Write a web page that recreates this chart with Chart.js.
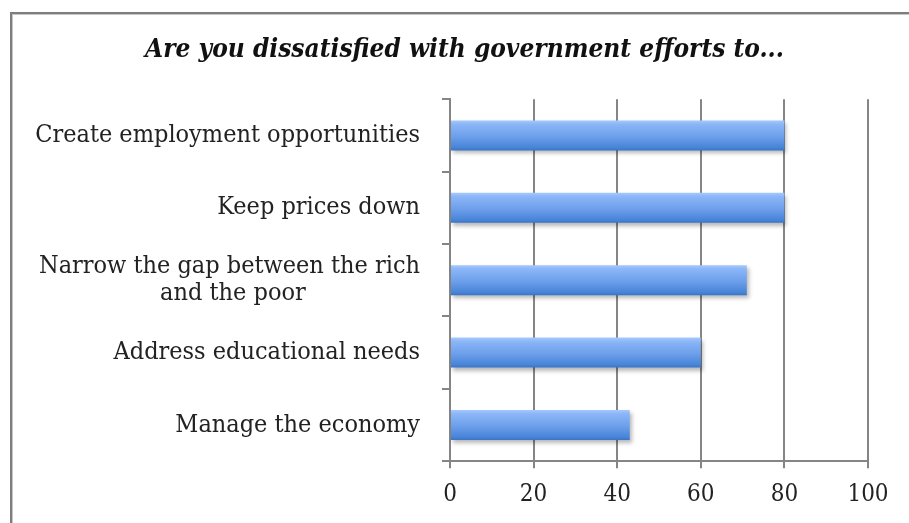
<!DOCTYPE html>
<html>
<head>
<meta charset="utf-8">
<script src="https://cdn.jsdelivr.net/npm/chart.js@4"></script>
<style>
  html, body { margin: 0; padding: 0; background: #fff; overflow: hidden; }
  #wrap { position: relative; width: 909px; height: 523px; }
  #frame {
    position: absolute; left: 10px; top: 12px; width: 1000px; height: 600px;
    border: 2px solid #7e7e7e; box-shadow: inset 1px 1px 0 #c6c6c6;
  }
  canvas { position: absolute; left: 0; top: 0; }
</style>
</head>
<body>
<div id="wrap">
  <div id="frame"></div>
  <canvas id="chart" width="909" height="523"></canvas>
</div>
<script>
// survey answers, top to bottom
const categories = [
  'Create employment opportunities',
  'Keep prices down',
  ['Narrow the gap between the rich', 'and the poor'],
  'Address educational needs',
  'Manage the economy'
];
const percentDissatisfied = [80, 80, 71, 60, 43];
const xTicks = [0, 20, 40, 60, 80, 100];

const serif = '"DejaVu Serif Condensed", "DejaVu Serif", serif';
const labelFont = '25px ' + serif;
const gridGray = '#858585';

// the wrapped label is centred under its first line, so pad the short line
const measureCtx = document.createElement('canvas').getContext('2d');
measureCtx.font = labelFont;
function centerLines(label) {
  if (!Array.isArray(label)) return label;
  const widest = Math.max(...label.map(s => measureCtx.measureText(s).width));
  return label.map(s => {
    let out = s;
    while (measureCtx.measureText(out + '\u00A0').width <= (widest + measureCtx.measureText(s).width) / 2 + 2) {
      out += '\u00A0';
    }
    return out;
  });
}

// vertical gradient on each bar, worked out from the y scale
function barFill(ctx) {
  const chart = ctx.chart;
  const y = chart.scales.y;
  const fallback = '#6f9fe8';
  if (!y || ctx.dataIndex === undefined) return fallback;
  const mid = y.getPixelForValue(ctx.dataIndex);
  const half = (y.height / categories.length) * 0.415 / 2;
  if (!isFinite(mid) || !isFinite(half) || half <= 0) return fallback;
  const g = chart.ctx.createLinearGradient(0, mid - half, 0, mid + half);
  g.addColorStop(0, '#a6c9fc');
  g.addColorStop(0.12, '#8cb7f8');
  g.addColorStop(0.55, '#6c9eea');
  g.addColorStop(0.9, '#4884d8');
  g.addColorStop(1, '#3a74c6');
  return g;
}

const barShadow = {
  id: 'barShadow',
  beforeDatasetsDraw(chart) {
    const c = chart.ctx;
    c.save();
    c.shadowColor = 'rgba(0,0,0,0.28)';
    c.shadowBlur = 4;
    c.shadowOffsetX = 2;
    c.shadowOffsetY = 3;
  },
  afterDatasetsDraw(chart) {
    chart.ctx.restore();
  }
};

new Chart(document.getElementById('chart'), {
  type: 'bar',
  data: {
    labels: categories,
    datasets: [{
      data: percentDissatisfied,
      backgroundColor: barFill,
      borderWidth: 0,
      barPercentage: 0.415,
      categoryPercentage: 1
    }]
  },
  options: {
    indexAxis: 'y',
    responsive: false,
    animation: false,
    layout: { padding: { left: 20, right: 0, top: 0, bottom: 2 } },
    plugins: {
      legend: { display: false },
      tooltip: { enabled: false },
      title: {
        display: true,
        text: 'Are you dissatisfied with government efforts to...',
        color: '#111',
        font: { family: serif, size: 26, weight: 'bold', style: 'italic' },
        padding: { top: 35, bottom: 33 }
      }
    },
    scales: {
      x: {
        min: 0,
        max: 100,
        afterBuildTicks(scale) { scale.ticks = xTicks.map(v => ({ value: v })); },
        afterFit(scale) { scale.paddingRight = 41; },
        grid: { color: gridGray, lineWidth: 2, tickLength: 7, drawTicks: true },
        border: { color: gridGray, width: 2 },
        ticks: { color: '#222', padding: 12, font: { family: serif, size: 24 } }
      },
      y: {
        afterFit(scale) { scale.width = 430; },
        grid: { offset: true, drawOnChartArea: false, color: gridGray, lineWidth: 2, tickLength: 8 },
        border: { color: gridGray, width: 2 },
        ticks: {
          color: '#222',
          padding: 22,
          font: { family: serif, size: 25, lineHeight: 1.1 },
          callback(value) { return centerLines(categories[value]); }
        }
      }
    }
  },
  plugins: [barShadow]
});
</script>
</body>
</html>
